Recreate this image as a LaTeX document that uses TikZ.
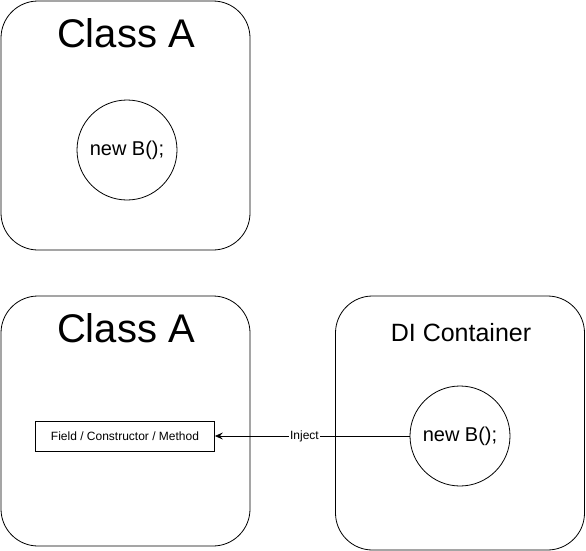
\documentclass[tikz,border=0pt]{standalone}
\usepackage{fontspec}
\setmainfont{Liberation Sans}
\usetikzlibrary{arrows.meta, positioning}

\begin{document}
\begin{tikzpicture}[
        x=1pt, y=-1pt,
        panel/.style={rectangle, draw, line width=0.8pt, rounded corners=37pt, minimum width=249pt, inner sep=0pt},
        heading/.style={font=\fontsize{40}{48}\selectfont, inner sep=0pt},
        subheading/.style={font=\fontsize{25}{30}\selectfont, inner sep=0pt},
        obj/.style={circle, draw, line width=0.8pt, minimum size=100pt, inner sep=0pt, font=\fontsize{20}{24}\selectfont},
        member/.style={rectangle, draw, line width=0.8pt, minimum width=179pt, minimum height=30pt, inner sep=0pt, font=\fontsize{12}{14}\selectfont},
        arrow/.style={line width=0.8pt, -{Stealth[length=8pt, width=7pt, inset=3pt]}},
        tag/.style={fill=white, inner sep=1pt, font=\fontsize{12}{14}\selectfont}
    ]
    \useasboundingbox (0,0) rectangle (586,551);

    % Top: Class A creates B itself
    \node [panel, minimum height=249pt] (classA) at (125.5,125.5) {};
    \node [heading] (titleA) at (126,33) {Class A};
    \node [obj] (newB) at (127,150) {new B();};

    % Bottom left: Class A receives B
    \node [panel, minimum height=250pt] (classAA) at (125.5,421) {};
    \node [heading] (titleAA) at (126,328) {Class A};
    \node [member] (field) at (125,436) {Field / Constructor / Method};

    % Bottom right: DI Container
    \node [panel, minimum height=254pt] (container) at (460,423) {};
    \node [subheading] (titleDI) at (461,333) {DI Container};
    \node [obj] (newBB) at (460,436) {new B();};

    % Injection
    \draw [arrow] (newBB) -- node[tag, pos=0.54] {Inject} (field);

\end{tikzpicture}
\end{document}
